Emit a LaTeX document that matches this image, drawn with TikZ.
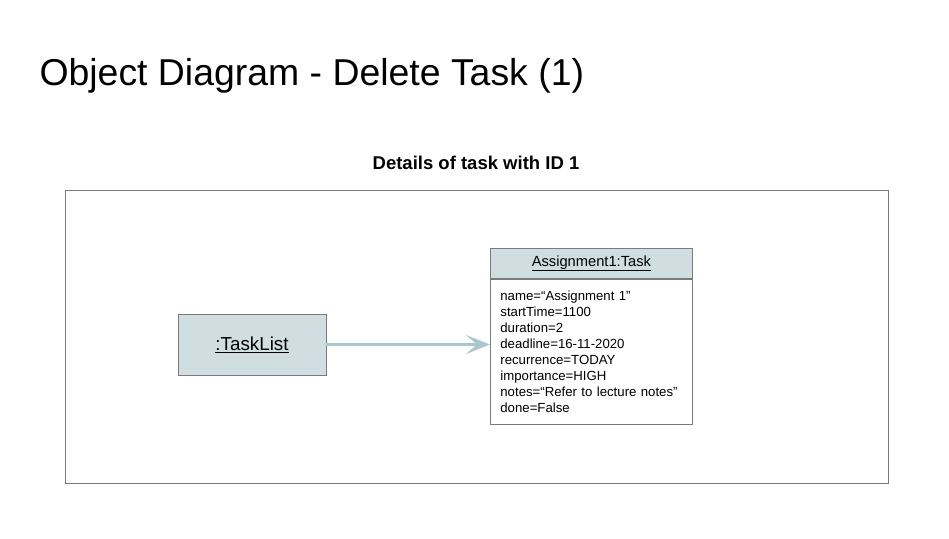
\documentclass[tikz,border=0pt]{standalone}
\usepackage{fontspec}
\setmainfont{Liberation Sans}
\usetikzlibrary{arrows.meta,positioning}
\definecolor{objfill}{HTML}{D0DEE2}
\definecolor{arrowc}{HTML}{A8C8CE}
\definecolor{edgec}{HTML}{7A7A7A}
\begin{document}
\begin{tikzpicture}[x=1pt,y=-1pt,
  frame/.style={draw=edgec,line width=0.8pt},
  objbox/.style={draw=edgec,line width=0.8pt,fill=objfill},
  link/.style={draw=arrowc,line width=3pt,-{Stealth[length=24pt,width=19pt,inset=11pt]}}]
\useasboundingbox (0,0) rectangle (949,538);
\node[anchor=west,font=\fontsize{37.4}{40}\selectfont] (title) at (36,76) {Object Diagram - Delete Task (1)};
\node[font=\fontsize{18.5}{20}\selectfont\bfseries] (caption) at (476,163) {Details of task with ID 1};
\draw[frame] (65,190) rectangle (888,483);
\node[objbox,minimum width=148pt,minimum height=61pt,inner sep=0pt,font=\fontsize{18.8}{20}\selectfont] (tl) at (252,344.5) {\underline{:TaskList}};
\node[objbox,anchor=north west,minimum width=202pt,minimum height=30pt,inner sep=0pt,font=\fontsize{14.7}{16}\selectfont] (hdr) at (490,248) {\underline{Assignment1:Task}};
\node[draw=edgec,line width=0.8pt,fill=white,anchor=north west,minimum width=202pt,minimum height=145pt,text width=182pt,inner xsep=10pt,inner ysep=4pt,align=left,font=\fontsize{13.2}{16}\selectfont] (body) at (hdr.south west) {name=“Assignment 1”\\startTime=1100\\duration=2\\deadline=16-11-2020\\recurrence=TODAY\\importance=HIGH\\notes=“Refer to lecture notes”\\done=False};
\draw[link] (tl.east) -- (body.west |- tl.east);
\end{tikzpicture}
\end{document}
